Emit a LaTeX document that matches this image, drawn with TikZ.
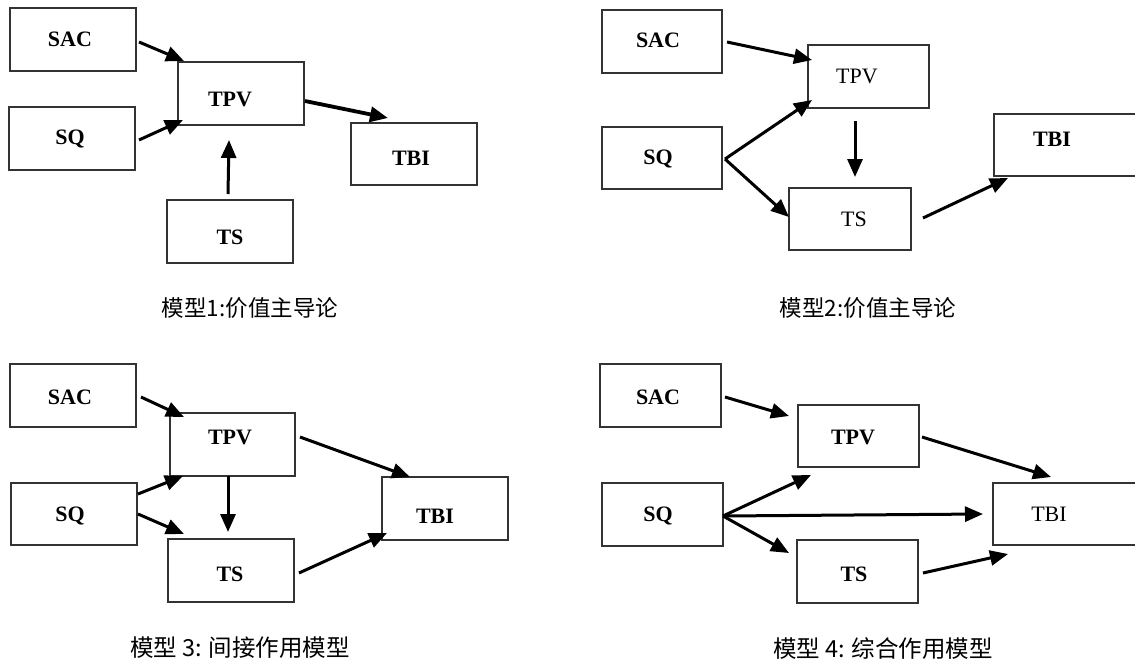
\documentclass[tikz,border=0pt]{standalone}
\usepackage{fontspec}
\setmainfont{Liberation Serif}
\newfontfamily\cjk{Noto Sans CJK SC}
\usetikzlibrary{arrows.meta,calc}
\tikzset{
  box/.style={draw=black!80, line width=1.2pt, inner sep=0pt, outer sep=0pt, fill=white},
  lb/.style={font=\fontsize{22}{22}\selectfont\bfseries, inner sep=0pt},
  lr/.style={font=\fontsize{22}{22}\selectfont, inner sep=0pt},
  capt/.style={font=\cjk\fontsize{22.5}{22.5}\selectfont, inner sep=0pt},
  arr/.style={line width=3pt, -{Triangle[length=18pt,width=15pt]}},
  arrthick/.style={line width=3.8pt, -{Triangle[length=18pt,width=15pt]}}
}
\newcommand{\bx}[7]{%
  \node[box, minimum width=#4, minimum height=#5] (#1) at (#2,#3) {};}
\begin{document}
\begin{tikzpicture}[x=1pt,y=-1pt]
\useasboundingbox[fill=white] (0,0) rectangle (1135,664);
% ---------- Panel 1 ----------
\bx{sacA}{73}{39.5}{126}{63}{}{}
\bx{sqA}{72}{138.5}{126}{63}{}{}
\bx{tpvA}{241}{93.5}{126}{63}{}{}
\bx{tbiA}{414}{154}{126}{62}{}{}
\bx{tsA}{230}{231.5}{126}{63}{}{}
\node[lb] (sacAt) at (70,39.5) {SAC};
\node[lb] (sqAt) at (70,139) {SQ};
\node[lb] (tpvAt) at (230,99) {TPV};
\node[lb] (tbiAt) at (411,158) {TBI};
\node[lb] (tsAt) at (230,237) {TS};
\node[capt] (capA) at (250,308) {模型1:价值主导论};
\draw[arr] ([shift={(3,2.5)}]sacA.east) -- ([shift={(6,-1)}]tpvA.north west);
\draw[arr] ([shift={(4,1.5)}]sqA.east) -- ([shift={(5,-5)}]tpvA.south west);
\draw[arrthick] ([shift={(1,7.5)}]tpvA.east) -- ([shift={(37,-5)}]tbiA.north west);
\draw[arr] ([shift={(-2,-6)}]tsA.north) -- ([shift={(-12,15)}]tpvA.south);
% ---------- Panel 2 ----------
\bx{sacB}{662}{41.5}{120}{63}{}{}
\bx{sqB}{662}{158}{120}{62}{}{}
\bx{tpvB}{868.5}{76.5}{121}{63}{}{}
\bx{tbiB}{1067}{145}{146}{62}{}{}
\bx{tsB}{850}{219}{122}{62}{}{}
\node[lb] (sacBt) at (658,40) {SAC};
\node[lb] (sqBt) at (658,159) {SQ};
\node[lr] (tpvBt) at (857,76) {TPV};
\node[lb] (tbiBt) at (1052,139) {TBI};
\node[lr] (tsBt) at (854,219) {TS};
\node[capt] (capB) at (868,308) {模型2:价值主导论};
\draw[arr] ([shift={(5,0.5)}]sacB.east) -- ([shift={(4,15)}]tpvB.north west);
\draw[arr] ([shift={(3,1)}]sqB.east) -- ([shift={(4,-8)}]tpvB.south west);
\draw[arr] ([shift={(3,1)}]sqB.east) -- ([shift={(0,-2)}]tsB.west);
\draw[arr] ([shift={(-13.5,13)}]tpvB.south) -- ([shift={(5,-11)}]tsB.north);
\draw[arr] ([shift={(12,-1)}]tsB.east) -- ([shift={(14,2)}]tbiB.south west);
% ---------- Panel 3 ----------
\bx{sacC}{73}{395.5}{126}{63}{}{}
\bx{sqC}{74}{514}{126}{62}{}{}
\bx{tpvC}{232.5}{444.5}{125}{63}{}{}
\bx{tsC}{231}{570.5}{126}{63}{}{}
\bx{tbiC}{445}{508.5}{126}{63}{}{}
\node[lb] (sacCt) at (70,397) {SAC};
\node[lb] (sqCt) at (70,516) {SQ};
\node[lb] (tpvCt) at (230,437) {TPV};
\node[lb] (tsCt) at (230,574) {TS};
\node[lb] (tbiCt) at (435,516) {TBI};
\node[capt, font=\cjk\fontsize{23.5}{23.5}\selectfont] (capC) at (240,648) {模型 3: 间接作用模型};
\draw[arr] ([shift={(5,1.5)}]sacC.east) -- ([shift={(14,4)}]tpvC.north west);
\draw[arr] ([shift={(1,-20)}]sqC.east) -- ([shift={(13,0)}]tpvC.south west);
\draw[arr] ([shift={(1,0)}]sqC.east) -- ([shift={(16,-5)}]tsC.north west);
\draw[arr] ([shift={(-4.5,0)}]tpvC.south) -- ([shift={(-3,-7)}]tsC.north);
\draw[arr] ([shift={(5,-7.5)}]tpvC.east) -- ([shift={(28,0)}]tbiC.north west);
\draw[arr] ([shift={(5,2.5)}]tsC.east) -- ([shift={(5,-7)}]tbiC.south west);
% ---------- Panel 4 ----------
\bx{sacD}{660.5}{395.5}{121}{63}{}{}
\bx{sqD}{662.5}{514.5}{121}{63}{}{}
\bx{tpvD}{858.5}{436}{121}{62}{}{}
\bx{tsD}{857.5}{571.5}{121}{63}{}{}
\bx{tbiD}{1066.5}{514}{147}{62}{}{}
\node[lb] (sacDt) at (658,397) {SAC};
\node[lb] (sqDt) at (658,516) {SQ};
\node[lb] (tpvDt) at (853,437) {TPV};
\node[lb] (tsDt) at (854,574) {TS};
\node[lr] (tbiDt) at (1049,514) {TBI};
\node[capt, font=\cjk\fontsize{23.5}{23.5}\selectfont] (capD) at (883,649) {模型 4: 综合作用模型};
\draw[arr] ([shift={(4,1.5)}]sacD.east) -- ([shift={(-9,-20)}]tpvD.west);
\draw[arr] ([shift={(0,1.5)}]sqD.east) -- ([shift={(13,8)}]tpvD.south west);
\draw[arr] ([shift={(0,1.5)}]sqD.east) -- ([shift={(-10,0)}]tbiD.west);
\draw[arr] ([shift={(0,1.5)}]sqD.east) -- ([shift={(-8,-18.5)}]tsD.west);
\draw[arr] ([shift={(3,1)}]tpvD.east) -- ([shift={(58,-6)}]tbiD.north west);
\draw[arr] ([shift={(5,1.5)}]tsD.east) -- ([shift={(15,9)}]tbiD.south west);
\end{tikzpicture}
\end{document}
